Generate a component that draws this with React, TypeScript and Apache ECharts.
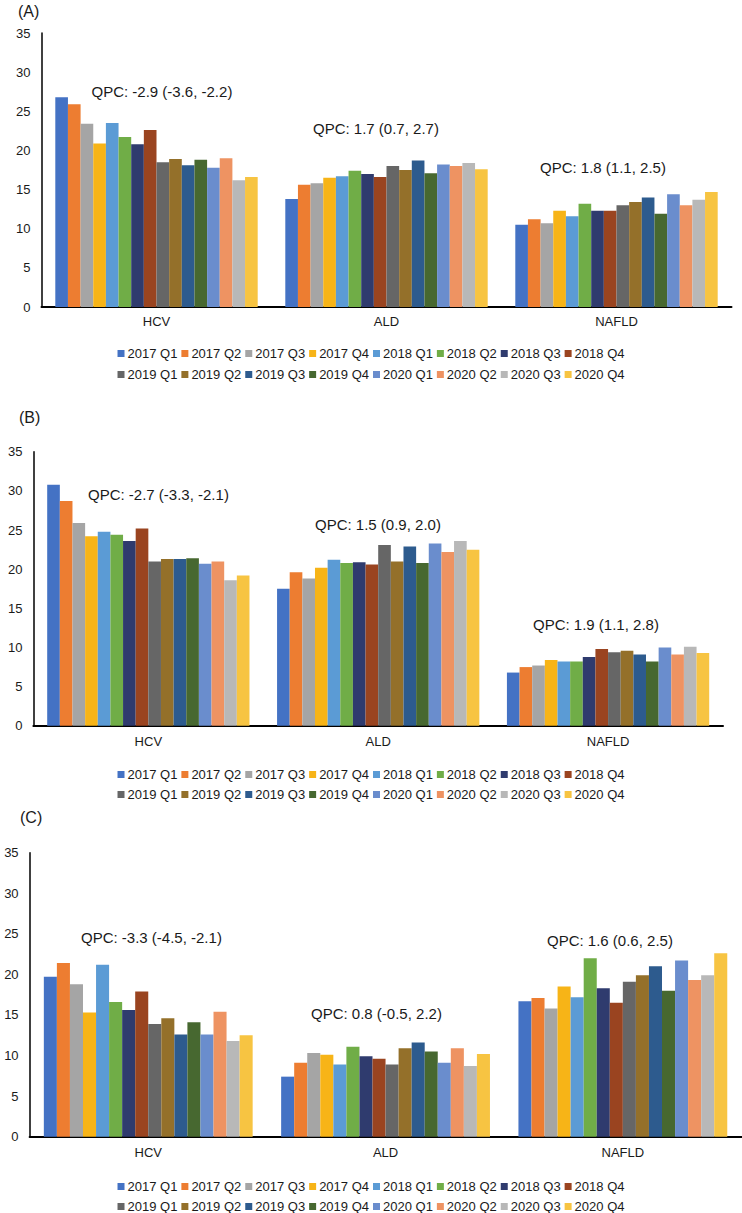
import React, { useEffect, useRef } from "react";
import * as echarts from "echarts";

const categories = ["HCV", "ALD", "NAFLD"];
const quarters = [
  "2017 Q1", "2017 Q2", "2017 Q3", "2017 Q4",
  "2018 Q1", "2018 Q2", "2018 Q3", "2018 Q4",
  "2019 Q1", "2019 Q2", "2019 Q3", "2019 Q4",
  "2020 Q1", "2020 Q2", "2020 Q3", "2020 Q4",
];
const quarterColors = [
  "#4472C4", "#ED7D31", "#A5A5A5", "#F7B417",
  "#5B9BD5", "#70AD47", "#2F3B6E", "#9A4420",
  "#666666", "#94702A", "#2D5B8E", "#476830",
  "#6A8DCD", "#EE9362", "#B8B8B8", "#F7C442",
];

// Panel (A)
const A_HCV = [26.8, 25.9, 23.4, 20.9, 23.5, 21.7, 20.8, 22.6, 18.5, 18.9, 18.1, 18.8, 17.8, 19.0, 16.2, 16.6];
const A_ALD = [13.8, 15.6, 15.8, 16.5, 16.7, 17.4, 17.0, 16.6, 18.0, 17.5, 18.7, 17.1, 18.2, 18.0, 18.4, 17.6];
const A_NAFLD = [10.5, 11.2, 10.7, 12.3, 11.6, 13.2, 12.3, 12.3, 13.0, 13.4, 14.0, 11.9, 14.4, 13.0, 13.7, 14.7];
// Panel (B)
const B_HCV = [30.8, 28.7, 25.9, 24.2, 24.8, 24.4, 23.6, 25.2, 21.0, 21.3, 21.3, 21.4, 20.7, 21.0, 18.6, 19.2];
const B_ALD = [17.5, 19.6, 18.8, 20.2, 21.2, 20.8, 20.9, 20.6, 23.1, 21.0, 22.9, 20.8, 23.3, 22.2, 23.6, 22.5];
const B_NAFLD = [6.8, 7.5, 7.7, 8.4, 8.2, 8.2, 8.8, 9.8, 9.4, 9.6, 9.1, 8.2, 10.0, 9.1, 10.1, 9.3];
// Panel (C)
const C_HCV = [19.7, 21.4, 18.8, 15.3, 21.2, 16.6, 15.6, 17.9, 13.9, 14.6, 12.6, 14.1, 12.6, 15.4, 11.8, 12.5];
const C_ALD = [7.4, 9.1, 10.3, 10.1, 8.9, 11.1, 9.9, 9.6, 8.9, 10.9, 11.6, 10.5, 9.1, 10.9, 8.7, 10.2];
const C_NAFLD = [16.7, 17.1, 15.8, 18.5, 17.2, 22.0, 18.3, 16.5, 19.1, 19.9, 21.0, 18.0, 21.7, 19.3, 19.9, 22.6];

const panelLabels = ["(A)", "(B)", "(C)"];
const qpcA = ["QPC: -2.9 (-3.6, -2.2)", "QPC: 1.7 (0.7, 2.7)", "QPC: 1.8 (1.1, 2.5)"];
const qpcB = ["QPC: -2.7 (-3.3, -2.1)", "QPC: 1.5 (0.9, 2.0)", "QPC: 1.9 (1.1, 2.8)"];
const qpcC = ["QPC: -3.3 (-4.5, -2.1)", "QPC: 0.8 (-0.5, 2.2)", "QPC: 1.6 (0.6, 2.5)"];

const yMin = 0;
const yMax = 35;
const yStep = 5;

const FONT = "'Liberation Sans', Arial, Helvetica, sans-serif";
const TEXT = "#1a1a1a";

export default function App() {
  const ref = useRef<HTMLDivElement>(null);

  useEffect(() => {
    if (!ref.current) return;
    document.body.style.margin = "0";
    const chart = echarts.init(ref.current, null, { renderer: "svg" });

    const panels = [
      { hcv: A_HCV, ald: A_ALD, nafld: A_NAFLD, qpc: qpcA },
      { hcv: B_HCV, ald: B_ALD, nafld: B_NAFLD, qpc: qpcB },
      { hcv: C_HCV, ald: C_ALD, nafld: C_NAFLD, qpc: qpcC },
    ];

    const grids = [
      { left: 41.5, right: 10.5, top: 33, height: 274 },
      { left: 33.4, right: 19, top: 451.8, height: 274 },
      { left: 29.6, right: 0.5, top: 852.7, height: 284 },
    ];

    const labelPos = [
      { x: 18, y: 11 },
      { x: 19, y: 417 },
      { x: 20, y: 817 },
    ];
    const qpcPos = [
      [{ x: 91.5, y: 91 }, { x: 313, y: 128 }, { x: 540, y: 167 }],
      [{ x: 88, y: 494 }, { x: 315, y: 524 }, { x: 533, y: 624 }],
      [{ x: 81, y: 937 }, { x: 311, y: 1013 }, { x: 547, y: 940 }],
    ];
    const legendRows = [
      [349, 370],
      [770, 790],
      [1182, 1202],
    ];

    const series: any[] = [];
    panels.forEach((p, pi) => {
      quarters.forEach((q, qi) => {
        series.push({
          type: "bar",
          name: q,
          xAxisIndex: pi,
          yAxisIndex: pi,
          barGap: "0%",
          barCategoryGap: "12%",
          itemStyle: { color: quarterColors[qi] },
          data: [p.hcv[qi], p.ald[qi], p.nafld[qi]],
        });
      });
    });

    const legends: any[] = [];
    legendRows.forEach((rows) => {
      rows.forEach((cy, ri) => {
        legends.push({
          left: "center",
          top: cy - 7,
          orient: "horizontal",
          itemWidth: 7,
          itemHeight: 7,
          itemGap: 4,
          icon: "rect",
          selectedMode: false,
          textStyle: { fontFamily: FONT, fontSize: 13, color: TEXT, padding: [0, 0, 0, -2] },
          data: quarters.slice(ri * 8, ri * 8 + 8),
        });
      });
    });

    const graphic: any[] = [];
    panelLabels.forEach((t, i) => {
      graphic.push({
        type: "text",
        x: labelPos[i].x,
        y: labelPos[i].y,
        style: { text: t, fontFamily: FONT, fontSize: 16, fill: TEXT, verticalAlign: "middle", align: "left" },
      });
    });
    panels.forEach((p, pi) => {
      p.qpc.forEach((t, ci) => {
        graphic.push({
          type: "text",
          x: qpcPos[pi][ci].x,
          y: qpcPos[pi][ci].y,
          style: { text: t, fontFamily: FONT, fontSize: 15, fill: TEXT, verticalAlign: "middle", align: "left" },
        });
      });
    });

    chart.setOption({
      animation: false,
      backgroundColor: "#ffffff",
      grid: grids.map((g) => ({ ...g, containLabel: false })),
      xAxis: grids.map((_, i) => ({
        type: "category",
        gridIndex: i,
        data: categories,
        axisLine: { show: true, lineStyle: { color: "#000", width: 2 } },
        axisTick: { show: false },
        axisLabel: { fontFamily: FONT, fontSize: 13, color: TEXT, margin: i === 0 ? 8 : 9 },
        splitLine: { show: false },
      })),
      yAxis: grids.map((_, i) => ({
        type: "value",
        gridIndex: i,
        min: yMin,
        max: yMax,
        interval: yStep,
        axisLine: { show: true, lineStyle: { color: "#000", width: 1.5 } },
        axisTick: { show: false },
        axisLabel: { fontFamily: FONT, fontSize: 13, color: TEXT, margin: 11 },
        splitLine: { show: false },
      })),
      legend: legends,
      series,
      graphic,
    });

    return () => chart.dispose();
  }, []);

  return (
    <div
      ref={ref}
      style={{ position: "absolute", left: 0, top: 0, width: 742, height: 1213, background: "#fff" }}
    />
  );
}
